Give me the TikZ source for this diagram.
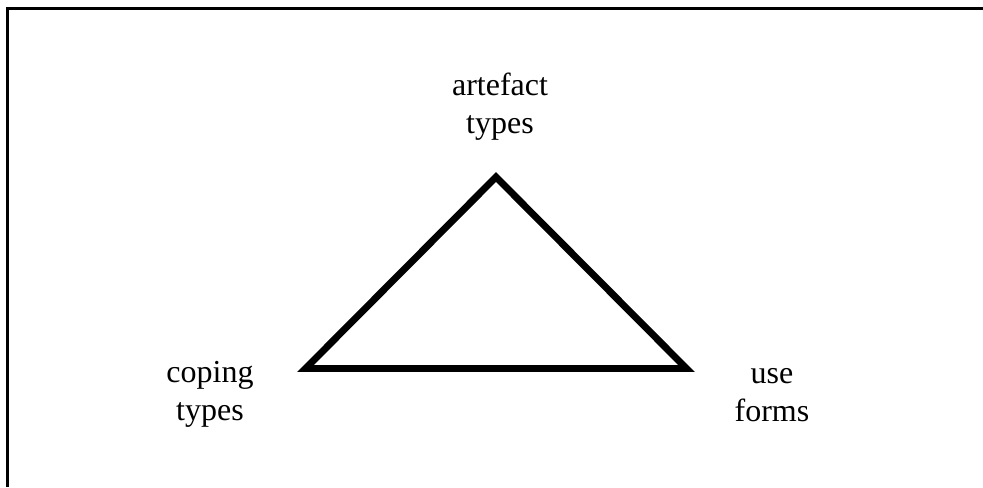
\documentclass[tikz,border=0pt]{standalone}
\usepackage{fontspec}
\setmainfont{Liberation Serif}
\usetikzlibrary{positioning}

\begin{document}
\begin{tikzpicture}[x=0.75pt,y=-0.75pt,
  lbl/.style={align=center,inner sep=0pt,font=\fontsize{24}{28.5}\selectfont},
  tri/.style={draw=black,line width=5.2pt,line join=miter}]
  \useasboundingbox (0,0) rectangle (983,487);
  \draw[line width=1.9pt] (7.5,487) -- (7.5,8.5) -- (983,8.5);
  \coordinate (top) at (496,177);
  \coordinate (lc) at (305.5,368.5);
  \coordinate (rc) at (686.5,368.5);
  \draw[tri] (top) -- (lc) -- (rc) -- cycle;
  \node[lbl] (art) at (500,107) {artefact\\types};
  \node[lbl] (cop) at (210,394) {coping\\types};
  \node[lbl] (use) at (772,395) {use\\forms};
\end{tikzpicture}
\end{document}
